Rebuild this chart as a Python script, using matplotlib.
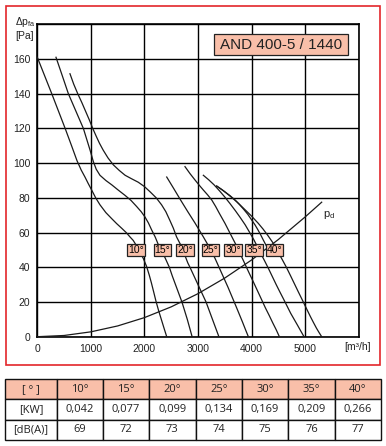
import numpy as np
import matplotlib
matplotlib.use("Agg")
import matplotlib.pyplot as plt
from matplotlib.patches import Rectangle

plt.rcParams['font.family'] = ['Liberation Sans', 'DejaVu Sans']
plt.rcParams['mathtext.fontset'] = 'custom'
plt.rcParams['mathtext.rm'] = 'Liberation Sans'
plt.rcParams['mathtext.it'] = 'Liberation Sans'

# fan curves: flow [m3/h] vs static pressure [Pa], one per blade angle
q_10 = [0, 135, 270, 395, 520, 640, 740, 820, 890, 950, 1015, 1090, 1170, 1280, 1390, 1480,
        1575, 1660, 1730, 1790, 1850, 1920, 1980, 2040, 2090, 2130, 2175, 2215, 2265, 2315,
        2365, 2416]
dp_10 = [161, 150.5, 140, 130, 120, 110, 101.5, 96, 92, 88.3, 84.5, 80, 76, 71.5, 68, 65.2,
         62.5, 60, 57.5, 55.5, 52.5, 48.5, 45, 40.5, 35.5, 31, 25.5, 20.5, 15, 10,
         5, 0]

q_15 = [349, 465, 580, 720, 860, 925, 985, 1045, 1100, 1170, 1280, 1390, 1510, 1635, 1750,
        1855, 1940, 2010, 2075, 2135, 2200, 2260, 2325, 2385, 2465, 2520, 2580, 2640, 2700,
        2750, 2800, 2845, 2890]
dp_15 = [161, 150.5, 140, 130, 120, 113.5, 107.5, 101, 96.5, 93, 90, 87.5, 84.5, 81.5, 78.5,
         75, 72, 69, 65.5, 61.5, 57.5, 53, 49, 45.5, 40, 35, 30, 25, 20,
         15, 10, 5, 0]

q_20 = [610, 680, 755, 830, 900, 970, 1035, 1100, 1160, 1230, 1320, 1420, 1530, 1640, 1760,
        1885, 2000, 2105, 2220, 2320, 2400, 2475, 2540, 2600, 2650, 2700, 2760, 2810, 2850,
        2925, 3000, 3075, 3150, 3210, 3270, 3330, 3390]
dp_20 = [151.5, 145.5, 140, 135, 130, 125, 120, 115.5, 111.5, 107.5, 103, 99, 95.8, 93, 91,
         89, 86.5, 83.5, 80, 76, 72, 67, 62.5, 57.5, 54.5, 51.5, 46.5, 42.5, 40,
         35, 30, 25, 20, 15, 10, 5, 0]

q_25 = [2416, 2550, 2680, 2810, 2944, 3100, 3240, 3320, 3400, 3480, 3560, 3635, 3710, 3770,
        3830, 3885, 3940]
dp_25 = [92, 85.2, 78.5, 72, 65.5, 57.5, 50, 45, 39.5, 34, 28.5, 23, 17.5, 13,
         8.5, 4.2, 0]

q_30 = [2757, 2850, 2944, 3020, 3100, 3180, 3256, 3330, 3400, 3504, 3600, 3700, 3800, 3875,
        3950, 4030, 4110, 4185, 4260, 4330, 4395, 4460, 4519]
dp_30 = [98, 94, 90.3, 87.4, 84.5, 81.7, 78.8, 75, 71, 65.3, 59.5, 53.5, 47, 42,
         37, 31.8, 26.5, 21.5, 16.5, 12.2, 8, 4, 0]

q_35 = [3100, 3200, 3300, 3400, 3500, 3600, 3700, 3790, 3880, 3960, 4040, 4110, 4180, 4250,
        4320, 4390, 4460, 4530, 4600, 4665, 4730, 4795, 4860, 4920, 4979]
dp_35 = [93, 90.4, 87.5, 84.1, 80.5, 76.6, 72.5, 68.6, 64.5, 60.3, 56, 51.8, 47.5, 43.3,
         39, 34.5, 30, 25.7, 21.5, 17.5, 13.5, 10, 6.5, 3.2, 0]

q_40 = [3349, 3475, 3600, 3725, 3850, 3990, 4126, 4215, 4300, 4406, 4500, 4575, 4650, 4725,
        4800, 4875, 4950, 5025, 5100, 5155, 5210, 5260, 5309]
dp_40 = [86.8, 84.1, 81, 77.7, 74, 69.8, 65.3, 62, 58.5, 53.8, 48.5, 44.3, 40, 35.3,
         30.5, 25.7, 21, 16.2, 11.5, 8.2, 5, 2.4, 0]
# second (doubled) trace of the 40 deg curve above its label
q_40b = [3349, 3425, 3500, 3600, 3691, 3770, 3850, 3930, 4003, 4065, 4120, 4170, 4219, 4290]
dp_40b = [86.8, 85.2, 83.5, 81.2, 78.8, 76.3, 73.5, 70.5, 67.2, 64.4, 61.5, 58.7, 55.7, 51.5]

# dynamic pressure
q_pd = [0, 500, 1000, 1500, 2000, 2500, 3000, 3500, 4000, 4500, 5000, 5309]
dp_pd = [0, 0.7, 2.8, 6.2, 11, 17.2, 24.8, 33.8, 44.2, 56, 69, 77.5]

angles = ["10°", "15°", "20°", "25°", "30°", "35°", "40°"]
label_q = [1848, 2337, 2757, 3234, 3659, 4046, 4429]
power_kw = ["0,042", "0,077", "0,099", "0,134", "0,169", "0,209", "0,266"]
noise_db = ["69", "72", "73", "74", "75", "76", "77"]

SALMON = '#F9BFA9'
W, H = 386, 446

fig = plt.figure(figsize=(W / 100, H / 100), dpi=100)


def fx(px):
    return px / W


def fy(py):
    return 1 - py / H


ax = fig.add_axes([fx(37.3), fy(336.7), (358.7 - 37.3) / W, (336.7 - 24.3) / H])
ax.set_xlim(0, 6000)
ax.set_ylim(0, 180)
ax.set_xticks(range(0, 6001, 1000))
ax.set_xticklabels(['0', '1000', '2000', '3000', '4000', '5000', ''])
ax.set_yticks(range(0, 181, 20))
ax.set_yticklabels([str(v) for v in range(0, 161, 20)] + [''])
ax.tick_params(length=0, labelsize=7.5, labelcolor='#222222', pad=5)
ax.grid(True, color='black', lw=1.0)
for s in ax.spines.values():
    s.set_linewidth(1.2)

curves = [(q_10, dp_10), (q_15, dp_15), (q_20, dp_20), (q_25, dp_25),
          (q_30, dp_30), (q_35, dp_35), (q_40, dp_40), (q_40b, dp_40b)]
for q, dp in curves:
    ax.plot(q, dp, color='#1a1a1a', lw=0.9, zorder=3, solid_joinstyle='round')
ax.plot(q_pd, dp_pd, color='#1a1a1a', lw=0.9, zorder=3, solid_joinstyle='round')

for a, xq in zip(angles, label_q):
    ax.text(xq, 50, a, ha='center', va='center', fontsize=7.5, zorder=6,
            bbox=dict(boxstyle='square,pad=0.1', fc=SALMON, ec='#222222', lw=0.9))

ax.text(5330, 70, r'$\mathrm{p_d}$', fontsize=8, ha='left', va='center', color='#222222')

ax.add_patch(Rectangle((0.5507, 0.9017), 0.4151, 0.0673, transform=ax.transAxes,
                       fc=SALMON, ec='#222222', lw=0.9, zorder=6))
ax.text(0.7582, 0.9353, 'AND 400-5 / 1440', transform=ax.transAxes, ha='center',
        va='center', fontsize=11, color='#222222', zorder=7)

fig.text(fx(15), fy(22), r'$\mathrm{\Delta p_{fa}}$', fontsize=7.5, va='center', color='#222222')
fig.text(fx(15), fy(36), '[Pa]', fontsize=7.5, va='center', color='#222222')
fig.text(fx(357.5), fy(347.5), '[m³/h]', fontsize=7.5, ha='center', va='center', color='#222222')

fig.add_artist(Rectangle((fx(5.5), fy(364.5)), (380.3 - 5.5) / W, (364.5 - 5.5) / H,
                         transform=fig.transFigure, fill=False, ec='#E3262B', lw=1.2))

# table
tax = fig.add_axes([fx(5.3), fy(440), (381 - 5.3) / W, (440 - 379) / H])
tax.axis('off')
cells = [["[ ° ]"] + angles, ["[KW]"] + power_kw, ["[dB(A)]"] + noise_db]
widths = [51.4] + [46.5] * 7
tbl = tax.table(cellText=cells, cellLoc='center', bbox=[0, 0, 1, 1],
                colWidths=[w / sum(widths) for w in widths])
tbl.auto_set_font_size(False)
for (r, c), cell in tbl.get_celld().items():
    cell.set_linewidth(1.0)
    cell.set_edgecolor('#111111')
    cell.get_text().set_fontsize(8)
    cell.get_text().set_fontfamily(['Open Sans', 'DejaVu Sans'])
    cell.get_text().set_color('#222222')
    if r == 0:
        cell.set_facecolor(SALMON)

fig.savefig('out.png', dpi=100)
